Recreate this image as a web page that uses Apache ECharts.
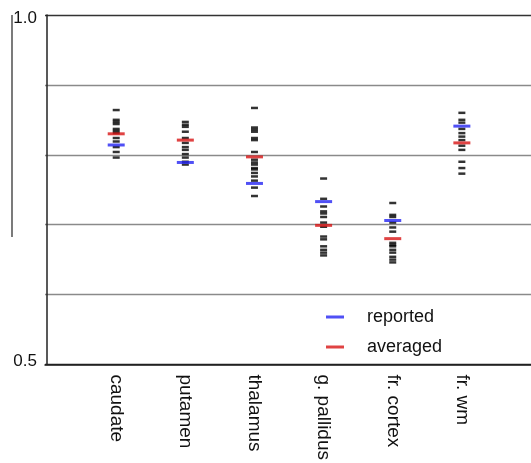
<!DOCTYPE html>
<html>
<head>
<meta charset="utf-8">
<script src="https://cdn.jsdelivr.net/npm/echarts@6/dist/echarts.min.js"></script>
<style>
html, body { margin: 0; padding: 0; background: #fff; }
#chart { width: 531px; height: 463px; }
</style>
</head>
<body>
<div id="chart"></div>
<script>
// regions along the x axis
const regions = ['caudate', 'putamen', 'thalamus', 'g. pallidus', 'fr. cortex', 'fr. wm'];

// individual subject values (black dashes), one list per region
const caudateVals = [0.864, 0.85, 0.847, 0.844, 0.837, 0.834, 0.831, 0.824, 0.819, 0.811, 0.804, 0.796];
const putamenVals = [0.847, 0.843, 0.84, 0.833, 0.824, 0.817, 0.811, 0.807, 0.801, 0.796, 0.79, 0.786];
const thalamusVals = [0.867, 0.839, 0.836, 0.833, 0.824, 0.821, 0.804, 0.793, 0.789, 0.786, 0.781, 0.779, 0.774, 0.769, 0.763, 0.753, 0.741];
const pallidusVals = [0.766, 0.737, 0.726, 0.719, 0.716, 0.711, 0.703, 0.697, 0.683, 0.679, 0.669, 0.664, 0.66, 0.656];
const cortexVals = [0.731, 0.714, 0.711, 0.703, 0.696, 0.69, 0.674, 0.671, 0.669, 0.664, 0.66, 0.654, 0.65, 0.646];
const wmVals = [0.86, 0.85, 0.846, 0.837, 0.831, 0.826, 0.821, 0.813, 0.807, 0.79, 0.781, 0.773];

// summary values
const reported = [0.814, 0.789, 0.759, 0.733, 0.706, 0.841];
const averaged = [0.83, 0.821, 0.797, 0.699, 0.68, 0.817];

const yTickLabels = { '0.5': '{bot|0.5}', '1': '{top|1.0}' };

const subjectLists = [caudateVals, putamenVals, thalamusVals, pallidusVals, cortexVals, wmVals];
const subjectPoints = [];
subjectLists.forEach((list, i) => {
	list.forEach((v) => subjectPoints.push([i + 1, v]));
});

const myChart = echarts.init(document.getElementById('chart'));
const option = {
	animation: false,
	textStyle: { fontFamily: 'Liberation Sans, Arial, sans-serif' },
	grid: { left: 45, right: -5, top: 15, bottom: 98 },
	xAxis: {
		type: 'value',
		min: -0.03,
		max: 7,
		axisLine: { lineStyle: { color: '#222', width: 1.5 } },
		axisTick: { show: false },
		splitLine: { show: false },
		axisLabel: {
			customValues: [1, 2, 3, 4, 5, 6],
			rotate: -90,
			fontSize: 19,
			color: '#111',
			margin: 10,
			formatter: (v) => regions[Math.round(v) - 1] || '',
		},
	},
	yAxis: {
		type: 'value',
		min: 0.5,
		max: 1.0,
		interval: 0.1,
		axisLine: { show: true, lineStyle: { color: '#222', width: 1.5 } },
		axisTick: { show: false },
		axisLabel: {
			fontSize: 17,
			color: '#111',
			margin: 8,
			formatter: (v) => yTickLabels[String(+v.toFixed(1))] || '',
			rich: {
				top: { fontSize: 17, color: '#111', padding: [6, 0, 0, 0] },
				bot: { fontSize: 17, color: '#111', padding: [0, 0, 6, 0] },
			},
		},
		splitLine: {
			lineStyle: { color: ['#222', '#8a8a8a', '#8a8a8a', '#8a8a8a', '#8a8a8a', '#333'], width: 1.3 },
		},
	},
	legend: {
		orient: 'vertical',
		left: 326,
		top: 307,
		padding: 0,
		itemWidth: 18,
		itemHeight: 3,
		itemGap: 10,
		icon: 'rect',
		textStyle: { fontSize: 18, lineHeight: 20, color: '#111', padding: [0, 0, 0, 18] },
		data: ['reported', 'averaged'],
	},
	graphic: [
		{
			type: 'line',
			shape: { x1: 12, y1: 15, x2: 12, y2: 237 },
			style: { stroke: '#222', lineWidth: 1.2 },
		},
	],
	series: [
		{
			name: 'subjects',
			type: 'scatter',
			symbol: 'rect',
			symbolSize: [7, 2.5],
			itemStyle: { color: '#000' },
			data: subjectPoints,
			z: 2,
		},
		{
			name: 'reported',
			type: 'scatter',
			symbol: 'rect',
			symbolSize: [17, 3],
			itemStyle: { color: '#2424f2' },
			data: reported.map((v, i) => [i + 1, v]),
			z: 3,
		},
		{
			name: 'averaged',
			type: 'scatter',
			symbol: 'rect',
			symbolSize: [17, 3],
			itemStyle: { color: '#d81414' },
			data: averaged.map((v, i) => [i + 1, v]),
			z: 4,
		},
	],
};
myChart.setOption(option);
</script>
</body>
</html>
